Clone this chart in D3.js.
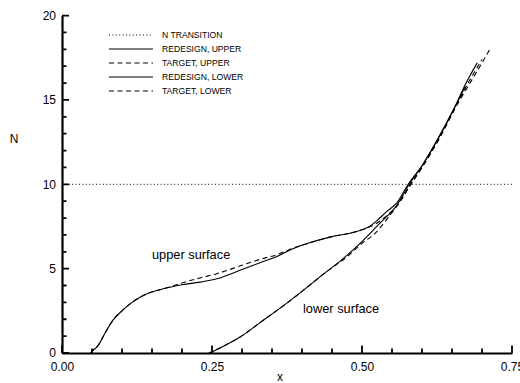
<!DOCTYPE html>
<html>
<head>
<meta charset="utf-8">
<script src="https://cdn.jsdelivr.net/npm/d3@7"></script>
<style>
  body { margin: 0; background: #fff; }
  svg { display: block; font-family: "Liberation Sans", Arial, sans-serif; }
</style>
</head>
<body>
<div id="chart"></div>
<script>
// N-factor curves
const redesignUpperX = [0.048, 0.053, 0.058, 0.063, 0.072, 0.085, 0.10, 0.113, 0.13, 0.147, 0.163, 0.18, 0.20, 0.23, 0.258, 0.30, 0.33, 0.36, 0.38, 0.41, 0.45, 0.48, 0.50, 0.51, 0.525, 0.54, 0.558, 0.577, 0.60, 0.627, 0.655, 0.672, 0.692];
const redesignUpperN = [0, 0.2, 0.35, 0.6, 1.2, 1.95, 2.5, 2.9, 3.3, 3.58, 3.75, 3.9, 4.05, 4.2, 4.4, 4.95, 5.35, 5.75, 6.1, 6.5, 6.9, 7.1, 7.3, 7.45, 7.85, 8.35, 8.9, 10.0, 11.1, 12.7, 14.6, 15.9, 17.2];

const targetUpperX = [0.048, 0.053, 0.058, 0.063, 0.072, 0.085, 0.10, 0.113, 0.13, 0.147, 0.163, 0.18, 0.20, 0.23, 0.258, 0.30, 0.33, 0.36, 0.38, 0.41, 0.45, 0.48, 0.50, 0.52, 0.54, 0.56, 0.58, 0.60, 0.627, 0.655, 0.68, 0.70, 0.713];
const targetUpperN = [0, 0.2, 0.35, 0.6, 1.2, 1.95, 2.5, 2.9, 3.3, 3.58, 3.75, 3.92, 4.15, 4.45, 4.7, 5.2, 5.55, 5.85, 6.15, 6.5, 6.9, 7.1, 7.3, 7.6, 8.1, 8.8, 9.95, 11.0, 12.6, 14.5, 16.0, 17.2, 18.0];

const redesignLowerX = [0.245, 0.252, 0.263, 0.297, 0.33, 0.367, 0.40, 0.433, 0.467, 0.50, 0.53, 0.558, 0.577, 0.60, 0.627, 0.655, 0.672];
const redesignLowerN = [0, 0.1, 0.3, 0.95, 1.8, 2.75, 3.65, 4.6, 5.55, 6.6, 7.7, 8.75, 9.9, 11.1, 12.75, 14.6, 15.8];

const targetLowerX = [0.245, 0.252, 0.263, 0.297, 0.33, 0.367, 0.40, 0.433, 0.45, 0.475, 0.50, 0.522, 0.543, 0.56, 0.58, 0.60, 0.627, 0.655, 0.68, 0.70];
const targetLowerN = [0, 0.1, 0.3, 0.95, 1.8, 2.75, 3.65, 4.6, 5.05, 5.7, 6.5, 7.1, 8.0, 8.8, 9.9, 11.0, 12.6, 14.5, 16.2, 17.4];

const nTransition = 10;
const xTicks = [0, 0.25, 0.5, 0.75];
const yTicks = [0, 5, 10, 15, 20];
const xMinorTicks = [0.05, 0.1, 0.15, 0.2, 0.3, 0.35, 0.4, 0.45, 0.55, 0.6, 0.65, 0.7];
const yMinorTicks = [1, 2, 3, 4, 6, 7, 8, 9, 11, 12, 13, 14, 16, 17, 18, 19];
const legendLabels = ["N TRANSITION", "REDESIGN, UPPER", "TARGET, UPPER", "REDESIGN, LOWER", "TARGET, LOWER"];

const width = 520, height = 383;
const DOT = "1,2.4", DASH = "5,3.5";
const legendDash = [DOT, null, DASH, null, DASH];

const svg = d3.select("#chart").append("svg")
  .attr("width", width)
  .attr("height", height);

const x = d3.scaleLinear().domain([0, 0.75]).range([62, 512]);
const y = d3.scaleLinear().domain([0, 20]).range([353, 15.6]);

// tick marks point inward, drawn as one path from the scales
const tickPath = d3.path();
xTicks.forEach(v => { tickPath.moveTo(x(v), y(0)); tickPath.lineTo(x(v), y(0) - 7.5); });
xMinorTicks.forEach(v => { tickPath.moveTo(x(v), y(0)); tickPath.lineTo(x(v), y(0) - 4.5); });
yTicks.forEach(v => { tickPath.moveTo(x(0), y(v)); tickPath.lineTo(x(0) + 7, y(v)); });
yMinorTicks.forEach(v => { tickPath.moveTo(x(0), y(v)); tickPath.lineTo(x(0) + 4.5, y(v)); });

// axis lines and labels
const xAxis = svg.append("g")
  .attr("transform", "translate(0,353)")
  .call(d3.axisBottom(x).tickValues(xTicks).tickSize(0).tickPadding(9).tickFormat(d3.format(".2f")));
const yAxis = svg.append("g")
  .attr("transform", "translate(62,0)")
  .call(d3.axisLeft(y).tickValues(yTicks).tickSize(0).tickPadding(6).tickFormat(d3.format("d")));

[xAxis, yAxis].forEach(a => {
  a.select(".domain").attr("stroke-width", 2.2).attr("stroke", "#000");
  a.selectAll("text").attr("font-size", 12).attr("font-family", "Liberation Sans, Arial, sans-serif").attr("fill", "#000");
});

svg.append("path")
  .attr("d", tickPath.toString())
  .attr("fill", "none")
  .attr("stroke", "#000")
  .attr("stroke-width", 1.8);

// axis titles
svg.append("text").attr("x", 14).attr("y", 143).attr("text-anchor", "middle")
  .attr("font-size", 12).text("N");
svg.append("text").attr("x", 280).attr("y", 381).attr("text-anchor", "middle")
  .attr("font-size", 12).text("x");

// transition level
svg.append("line")
  .attr("x1", x(0)).attr("x2", x(0.75))
  .attr("y1", y(nTransition)).attr("y2", y(nTransition))
  .attr("stroke", "#000").attr("stroke-dasharray", DOT);

const line = d3.line()
  .x(d => x(d[0]))
  .y(d => y(d[1]))
  .curve(d3.curveMonotoneX);

const series = [
  { xs: redesignUpperX, ns: redesignUpperN, dash: null },
  { xs: targetUpperX, ns: targetUpperN, dash: DASH },
  { xs: redesignLowerX, ns: redesignLowerN, dash: null },
  { xs: targetLowerX, ns: targetLowerN, dash: DASH }
];

series.forEach(s => {
  svg.append("path")
    .datum(d3.zip(s.xs, s.ns))
    .attr("fill", "none")
    .attr("stroke", "#000")
    .attr("stroke-width", 1.1)
    .attr("stroke-dasharray", s.dash)
    .attr("d", line);
});

// annotations
svg.append("text").attr("x", 152).attr("y", 259).attr("font-size", 12.8).text("upper surface");
svg.append("text").attr("x", 303).attr("y", 313).attr("font-size", 12.8).text("lower surface");

// legend
const legend = svg.append("g").attr("transform", "translate(109,35)");
legendLabels.forEach((lab, i) => {
  const row = legend.append("g").attr("transform", "translate(0," + (i * 14) + ")");
  row.append("line").attr("x1", 0).attr("x2", 44)
    .attr("stroke", "#000").attr("stroke-dasharray", legendDash[i]);
  row.append("text").attr("x", 53).attr("y", 3).attr("font-size", 8.6).text(lab);
});
</script>
</body>
</html>
